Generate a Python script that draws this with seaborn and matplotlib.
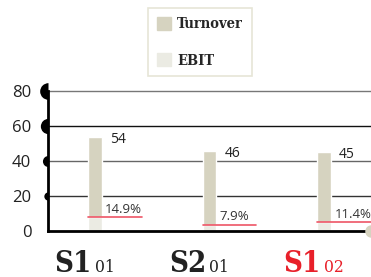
import matplotlib
matplotlib.use('Agg')
import matplotlib.pyplot as plt
import seaborn as sns
from matplotlib.patches import Patch

periods = ['S1', 'S2', 'S1']
years = ['01', '01', '02']
turnover = [54, 46, 45]
ebit = [8.0, 3.6, 5.1]
margins = ['14.9%', '7.9%', '11.4%']
yticks = [0, 20, 40, 60, 80]

sns.set_style('white')
plt.rcParams['font.family'] = ['Open Sans', 'DejaVu Sans']
narrow = ['DejaVu Serif']

fig = plt.figure(figsize=(3.71, 2.77), dpi=100)
ax = fig.add_axes([48/371, 1-231/277, 1-48/371, 140/277])

xs = list(range(len(turnover)))
sns.barplot(x=xs, y=turnover, color='#d6d3c0', width=0.122, saturation=1, ax=ax)
sns.barplot(x=xs, y=ebit, color='#ebebe3', width=0.122, saturation=1, ax=ax)

ax.set_xlim(-0.41, 2.41)
ax.set_ylim(0, 80)
ax.set_yticks(yticks)
ax.set_xticks([])
ax.tick_params(axis='y', length=0, pad=12, labelsize=12, labelcolor='#222222')

for s in ['top', 'right']:
    ax.spines[s].set_visible(False)
ax.spines['left'].set_linewidth(2)
ax.spines['bottom'].set_linewidth(2)
ax.spines['left'].set_color('black')
ax.spines['bottom'].set_color('black')

grid_colors = {20: '#333333', 40: '#666666', 60: '#111111', 80: '#777777'}
for v, c in grid_colors.items():
    ax.axhline(v, color=c, lw=1, zorder=0.5, clip_on=False)

# half-circle markers on the left spine
marker_sizes = {20: 6, 40: 8, 60: 11, 80: 12}
for v, ms in marker_sizes.items():
    ax.plot([-0.41], [v], marker='o', ms=ms, fillstyle='left', color='black',
            markeredgewidth=0, clip_on=False, zorder=5)
ax.plot([2.41], [0], marker='o', ms=9, color='#d6d3c0', markeredgewidth=0,
        clip_on=False, zorder=5)

for i in xs:
    ax.text(i + 0.13, turnover[i] - 1.5, str(turnover[i]), fontsize=10,
            color='#222222', ha='left', va='center')
    ax.plot([i - 0.061, i + 0.41], [ebit[i], ebit[i]], color='#ee5566', lw=1.2, zorder=4)
    ax.text(i + 0.09, ebit[i] + 0.8, margins[i], fontsize=9.5, color='#333333',
            ha='left', va='bottom')
    col = '#e8202a' if i == 2 else '#222222'
    ax.text(i - 0.03, -0.29, periods[i], transform=ax.get_xaxis_transform(),
            fontsize=21, family=narrow, fontstretch='condensed', fontweight='bold',
            color=col, ha='right', va='baseline')
    ax.text(i, -0.29, years[i], transform=ax.get_xaxis_transform(),
            fontsize=12.5, family=narrow, fontstretch='condensed',
            color=col, ha='left', va='baseline')

handles = [Patch(color='#d6d3c0', label='Turnover'), Patch(color='#ebebe3', label='EBIT')]
leg = fig.legend(handles=handles, loc='upper center', bbox_to_anchor=(200/371, 1-8/277),
                 borderaxespad=0, frameon=True, fancybox=False, edgecolor='#e0dfcc',
                 prop={'family': narrow, 'size': 10.5, 'stretch': 'condensed', 'weight': 'bold'},
                 handlelength=1.0, handleheight=1.0, labelspacing=1.5, borderpad=0.6,
                 handletextpad=0.4)
leg.get_frame().set_linewidth(1.2)

fig.savefig('out.png', dpi=100)
